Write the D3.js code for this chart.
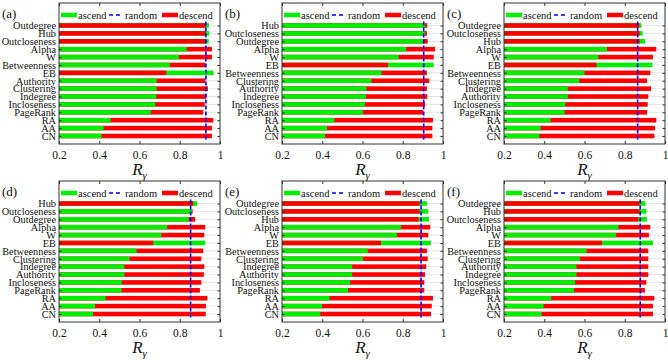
<!DOCTYPE html>
<html>
<head>
<meta charset="utf-8">
<script src="https://cdn.jsdelivr.net/npm/d3@7"></script>
<style>
body { margin: 0; background: #fff; }
svg { display: block; }
text { font-family: "Liberation Serif", "DejaVu Serif", serif; fill: #111; }
</style>
</head>
<body>
<svg id="chart" width="668" height="360"></svg>
<script>
// panel letters
var panelNames = ["(a)", "(b)", "(c)", "(d)", "(e)", "(f)"];
var xTicks = [0.2, 0.4, 0.6, 0.8, 1];

// row order per panel (top to bottom)
var rowsA = ["Outdegree", "Hub", "Outcloseness", "Alpha", "W", "Betweenness", "EB", "Authority", "Clustering", "Indegree", "Incloseness", "PageRank", "RA", "AA", "CN"];
var rowsB = ["Hub", "Outcloseness", "Outdegree", "Alpha", "W", "EB", "Betweenness", "Clustering", "Authority", "Indegree", "Incloseness", "PageRank", "RA", "AA", "CN"];
var rowsC = ["Outdegree", "Outcloseness", "Hub", "Alpha", "W", "EB", "Betweenness", "Clustering", "Indegree", "Authority", "Incloseness", "PageRank", "RA", "AA", "CN"];
var rowsD = ["Hub", "Outcloseness", "Outdegree", "Alpha", "W", "EB", "Betweenness", "Clustering", "Indegree", "Authority", "Incloseness", "PageRank", "RA", "AA", "CN"];
var rowsE = ["Outdegree", "Outcloseness", "Hub", "Alpha", "W", "EB", "Betweenness", "Clustering", "Indegree", "Authority", "Incloseness", "PageRank", "RA", "AA", "CN"];
var rowsF = ["Outdegree", "Hub", "Outcloseness", "Alpha", "W", "EB", "Betweenness", "Clustering", "Authority", "Indegree", "Incloseness", "PageRank", "RA", "AA", "CN"];

// ascend values (green), same order as rows
var ascA = [0.945, 0.947, 0.944, 0.834, 0.796, 0.751, 0.968, 0.685, 0.685, 0.683, 0.678, 0.656, 0.456, 0.422, 0.412];
var ascB = [0.911, 0.911, 0.904, 0.816, 0.780, 0.954, 0.695, 0.644, 0.619, 0.617, 0.612, 0.602, 0.460, 0.424, 0.414];
var ascC = [0.883, 0.889, 0.901, 0.712, 0.669, 0.937, 0.600, 0.574, 0.517, 0.517, 0.504, 0.501, 0.431, 0.382, 0.375];
var ascD = [0.887, 0.860, 0.844, 0.738, 0.708, 0.927, 0.585, 0.550, 0.525, 0.525, 0.512, 0.510, 0.432, 0.379, 0.369];
var ascE = [0.920, 0.927, 0.930, 0.791, 0.771, 0.940, 0.626, 0.602, 0.549, 0.549, 0.538, 0.528, 0.437, 0.399, 0.390];
var ascF = [0.903, 0.908, 0.910, 0.768, 0.757, 0.940, 0.610, 0.577, 0.560, 0.560, 0.553, 0.547, 0.435, 0.397, 0.387];

// descend values (red)
var descA = [0.929, 0.929, 0.929, 0.960, 0.960, 0.927, 0.734, 0.927, 0.940, 0.932, 0.924, 0.917, 0.967, 0.960, 0.960];
var descB = [0.922, 0.920, 0.924, 0.960, 0.954, 0.727, 0.920, 0.932, 0.920, 0.922, 0.911, 0.902, 0.950, 0.947, 0.947];
var descC = [0.872, 0.874, 0.874, 0.957, 0.940, 0.660, 0.927, 0.911, 0.931, 0.917, 0.914, 0.911, 0.957, 0.950, 0.947];
var descD = [0.867, 0.864, 0.877, 0.927, 0.922, 0.668, 0.917, 0.907, 0.922, 0.920, 0.907, 0.900, 0.937, 0.930, 0.929];
var descE = [0.884, 0.884, 0.879, 0.937, 0.927, 0.692, 0.920, 0.924, 0.917, 0.911, 0.907, 0.907, 0.950, 0.944, 0.940];
var descF = [0.873, 0.873, 0.867, 0.927, 0.920, 0.687, 0.917, 0.917, 0.917, 0.917, 0.907, 0.900, 0.947, 0.940, 0.940];

// random baseline per panel
var randomVals = [0.930, 0.904, 0.864, 0.854, 0.891, 0.877];

var allRows = [rowsA, rowsB, rowsC, rowsD, rowsE, rowsF];
var allAsc = [ascA, ascB, ascC, ascD, ascE, ascF];
var allDesc = [descA, descB, descC, descD, descE, descF];

var GREEN = "#00ee00", RED = "#ff0000", BLUE = "#0000ff";
var svg = d3.select("#chart");

var lefts = [59, 282, 504];
var tops = [3, 181];
var pw = 161, ph = 141;

function drawPanel(i) {
    var col = i % 3, row = Math.floor(i / 3);
    var g = svg.append("g")
        .attr("transform", "translate(" + lefts[col] + "," + tops[row] + ")");

    var x = d3.scaleLinear().domain([0.2, 1]).range([0, pw]);
    var y = d3.scalePoint().domain(allRows[i]).range([22.5, 133]);

    // faint row lines
    g.selectAll(".grid").data(allRows[i]).enter().append("line")
        .attr("x1", 0).attr("x2", pw)
        .attr("y1", function (d) { return y(d); })
        .attr("y2", function (d) { return y(d); })
        .attr("stroke", "#e6e6e6").attr("stroke-width", 1);

    // bars: longer one behind, shorter on top
    var data = allRows[i].map(function (name, k) {
        return { name: name, asc: allAsc[i][k], desc: allDesc[i][k] };
    });
    var bh = 4.6;
    data.forEach(function (d) {
        var pair = [{ v: d.asc, c: GREEN }, { v: d.desc, c: RED }];
        pair.sort(function (a, b) { return b.v - a.v; });
        pair.forEach(function (p) {
            g.append("rect")
                .attr("x", x(0.2))
                .attr("y", y(d.name) - bh / 2)
                .attr("width", x(p.v) - x(0.2))
                .attr("height", bh)
                .attr("fill", p.c);
        });
    });

    // random line
    g.append("line")
        .attr("x1", x(randomVals[i])).attr("x2", x(randomVals[i]))
        .attr("y1", y.range()[0] - 4).attr("y2", y.range()[1] + 5)
        .attr("stroke", BLUE).attr("stroke-width", 1.6)
        .attr("stroke-dasharray", "4,2");

    // axes
    var bottom = g.append("g").attr("transform", "translate(0," + ph + ")")
        .call(d3.axisBottom(x).tickValues(xTicks).tickSizeInner(-3).tickSizeOuter(0)
            .tickPadding(7).tickFormat(function (d) { return d === 1 ? "1" : d3.format(".1f")(d); }));
    bottom.select(".domain").remove();
    bottom.selectAll("line").attr("stroke", "#333");
    bottom.selectAll("text").style("font-size", "11.5px").style("font-family", "Liberation Serif, serif").attr("fill", "#111");

    var topAx = g.append("g")
        .call(d3.axisTop(x).tickValues(xTicks).tickSizeInner(-3).tickSizeOuter(0).tickFormat(""));
    topAx.select(".domain").remove();
    topAx.selectAll("line").attr("stroke", "#333");

    var left = g.append("g")
        .call(d3.axisLeft(y).tickSizeInner(-2.5).tickSizeOuter(0).tickPadding(3));
    left.select(".domain").remove();
    left.selectAll("line").attr("stroke", "#333");
    left.selectAll("text").style("font-size", "10.3px").style("font-family", "Liberation Serif, serif").attr("fill", "#111");

    var right = g.append("g").attr("transform", "translate(" + pw + ",0)")
        .call(d3.axisRight(y).tickSizeInner(-2.5).tickSizeOuter(0).tickFormat(""));
    right.select(".domain").remove();
    right.selectAll("line").attr("stroke", "#333");

    // frame
    g.append("rect").attr("x", 0).attr("y", 0).attr("width", pw).attr("height", ph)
        .attr("fill", "none").attr("stroke", "#333").attr("stroke-width", 1);

    // legend
    var lg = g.append("g").attr("transform", "translate(2,12)");
    lg.append("line").attr("x1", 0).attr("x2", 16).attr("y1", 0).attr("y2", 0)
        .attr("stroke", GREEN).attr("stroke-width", 4.5);
    lg.append("text").attr("x", 17).attr("y", 3.5).style("font-size", "10.5px").text("ascend");
    lg.append("line").attr("x1", 48).attr("x2", 61).attr("y1", 0).attr("y2", 0)
        .attr("stroke", BLUE).attr("stroke-width", 1.6).attr("stroke-dasharray", "4,3");
    lg.append("text").attr("x", 64).attr("y", 3.5).style("font-size", "10.5px").text("random");
    lg.append("line").attr("x1", 101).attr("x2", 117).attr("y1", 0).attr("y2", 0)
        .attr("stroke", RED).attr("stroke-width", 4.5);
    lg.append("text").attr("x", 118).attr("y", 3.5).style("font-size", "10.5px").text("descend");

    // x label
    var xl = g.append("text").attr("x", pw / 2).attr("y", ph + 31)
        .attr("text-anchor", "middle").style("font-size", "17px");
    xl.append("tspan").style("font-style", "italic").text("R");
    xl.append("tspan").attr("dy", 4).style("font-size", "11px").style("font-style", "italic").text("γ");

    // panel letter
    svg.append("text")
        .attr("x", lefts[col] - 57)
        .attr("y", tops[row] + 15)
        .style("font-size", "13px")
        .text(panelNames[i]);
}

for (var i = 0; i < 6; i++) drawPanel(i);
</script>
</body>
</html>
